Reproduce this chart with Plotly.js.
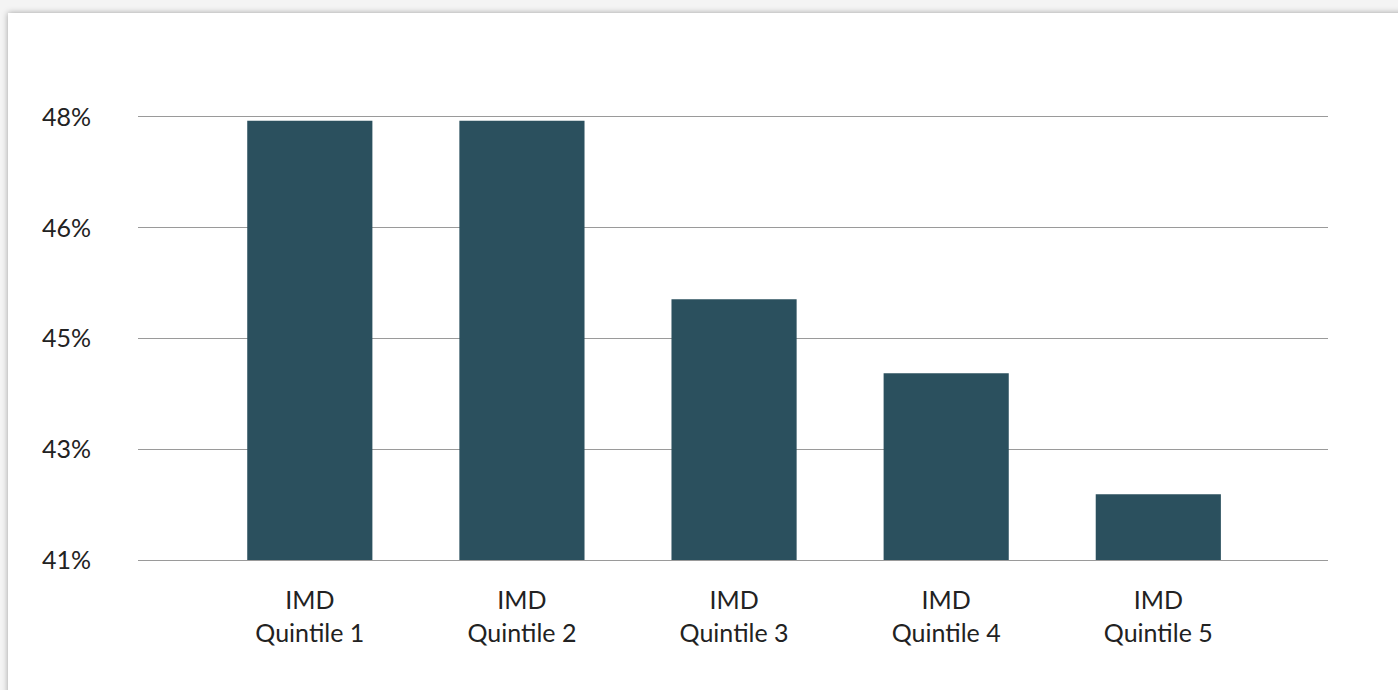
<!DOCTYPE html>
<html>
<head>
<meta charset="utf-8">
<script src="https://cdn.plot.ly/plotly-3.0.1.min.js"></script>
<style>
  html, body { margin: 0; padding: 0; background: #f4f4f4; width: 1398px; height: 690px; overflow: hidden; }
  #card { position: absolute; left: 8px; top: 13px; width: 1400px; height: 700px; background: #ffffff;
          box-shadow: 0 0 6px rgba(0,0,0,0.35); }
  #chart { position: absolute; left: 0; top: 0; width: 1398px; height: 690px; }
</style>
</head>
<body>
<div id="card"></div>
<div id="chart"></div>
<script>
const categories = ["IMD<br>Quintile 1", "IMD<br>Quintile 2", "IMD<br>Quintile 3", "IMD<br>Quintile 4", "IMD<br>Quintile 5"];
const values = [0.4794, 0.4794, 0.4512, 0.4395, 0.4204];
const yTickVals = [0.41, 0.4275, 0.445, 0.4625, 0.48];
const yTickText = ["41%", "43%", "45%", "46%", "48%"];

const fontFam = "Lato, 'Open Sans', sans-serif";
const trace = {
  type: "bar",
  x: [0, 1, 2, 3, 4],
  y: values,
  width: 0.59,
  marker: { color: "#2B505E" },
  hoverinfo: "skip"
};
const layout = {
  width: 1398, height: 690,
  margin: { l: 138, r: 70, t: 117, b: 130, pad: 0 },
  paper_bgcolor: "rgba(0,0,0,0)",
  plot_bgcolor: "rgba(0,0,0,0)",
  showlegend: false,
  font: { family: fontFam, size: 24, color: "#222222" },
  xaxis: {
    range: [-0.81, 4.80],
    tickvals: [0, 1, 2, 3, 4],
    ticktext: categories,
    showgrid: false, zeroline: false,
    showline: true, mirror: true, linecolor: "#9a9a9a", linewidth: 1,
    ticks: "", ticklabelstandoff: 18,
    tickfont: { family: fontFam, size: 25, color: "#222222" }
  },
  yaxis: {
    range: [0.41, 0.48],
    tickvals: yTickVals,
    ticktext: yTickText,
    showgrid: true, gridcolor: "#9a9a9a", gridwidth: 1,
    zeroline: false, showline: false, ticks: "",
    ticklabelstandoff: 46,
    tickfont: { family: fontFam, size: 25, color: "#222222" }
  },
  bargap: 0.41
};
Plotly.newPlot("chart", [trace], layout, { displayModeBar: false, staticPlot: true });
</script>
</body>
</html>
